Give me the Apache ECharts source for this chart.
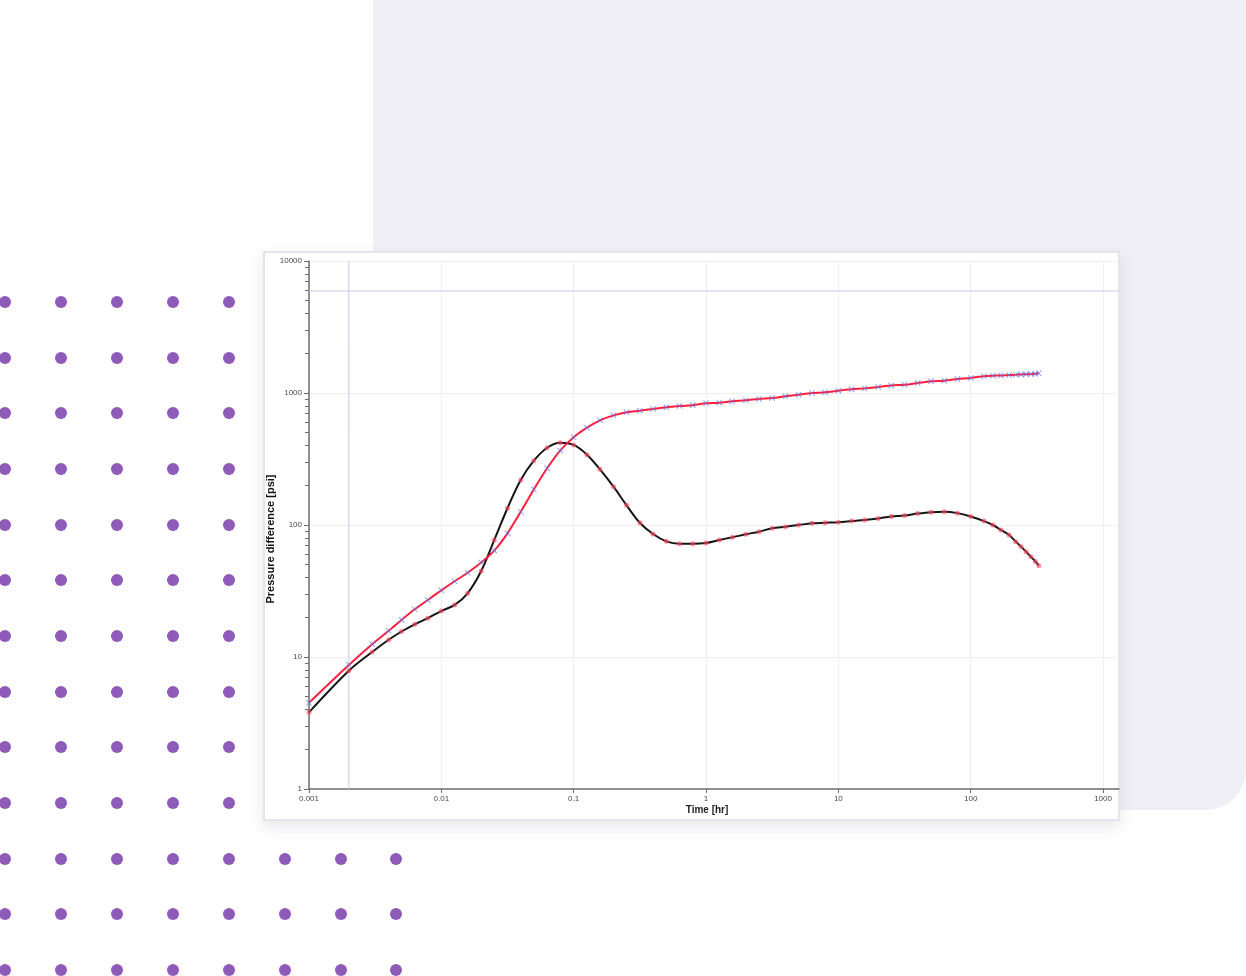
<!DOCTYPE html>
<html>
<head>
<meta charset="utf-8">
<script src="https://cdn.jsdelivr.net/npm/echarts@6/dist/echarts.min.js"></script>
<style>
  html, body { margin: 0; padding: 0; background: #ffffff; width: 1246px; height: 976px; overflow: hidden; position: relative; font-family: "Liberation Sans", Arial, sans-serif; }
  #bgRect { position: absolute; left: 373px; top: -40px; width: 873px; height: 850px; background: #f1eff6; border-radius: 40px; }
  #dots { position: absolute; left: 0; top: 0; width: 1246px; height: 976px; }
  .dot { position: absolute; width: 12px; height: 12px; border-radius: 50%; background: #8e5cb8; }
  #card { position: absolute; left: 263px; top: 251px; width: 853px; height: 566px; background: #ffffff; border: 2px solid #e4e4ea; box-shadow: 0 6px 16px rgba(60,60,90,0.12); }
  #chart { position: absolute; left: 263px; top: 251px; width: 857px; height: 570px; }
</style>
</head>
<body>
<div id="bgRect"></div>
<div id="dots"></div>
<div id="card"></div>
<div id="chart"></div>
<script>
// ---------- data ----------
const timeHr = [0.001, 0.002, 0.003, 0.004, 0.005, 0.0063, 0.0079,
  0.01, 0.0126, 0.0158, 0.02, 0.0251, 0.0316, 0.0398, 0.05, 0.063, 0.079,
  0.1, 0.126, 0.158, 0.2, 0.251, 0.316, 0.398, 0.501, 0.631, 0.794,
  1, 1.26, 1.58, 2, 2.51, 3.16, 3.98, 5.01, 6.31, 7.94,
  10, 12.6, 15.8, 20, 25.1, 31.6, 39.8, 50.1, 63.1, 79.4,
  100, 126, 147, 169, 195, 219, 240, 262, 285, 308, 327];

const pressureDiff = [4.5, 8.7, 12.5, 15.8, 19.1, 23, 27,
  32, 37.5, 43.5, 52, 64, 86.5, 126, 186, 269, 366,
  462, 546, 621, 677, 714, 735, 757, 779, 798, 808,
  836, 845, 866, 881, 902, 917, 944, 971, 1000, 1012,
  1041, 1066, 1084, 1110, 1142, 1155, 1190, 1225, 1239, 1276,
  1300, 1339, 1353, 1358, 1368, 1375, 1382, 1388, 1392, 1398, 1410];

const derivative = [3.81, 7.87, 10.9, 13.5, 15.6, 17.7, 19.7,
  22.3, 24.8, 30.4, 44.8, 76.9, 134, 219, 307, 385, 420,
  404, 341, 264, 195, 141, 104, 85.4, 75.2, 72.1, 72.1,
  73.1, 77, 80.7, 85.1, 89, 94.4, 97.1, 100, 103, 104,
  105, 107, 109, 112, 116, 118, 122, 125, 126, 123,
  116, 107, 100, 91.7, 84, 74.8, 68.6, 62.8, 57.5, 53, 49.2];

const xTickValues = [0.001, 0.01, 0.1, 1, 10, 100, 1000];
const yMinorTicks = [2,3,4,5,6,7,8,9, 20,30,40,50,60,70,80,90, 200,300,400,500,600,700,800,900, 2000,3000,4000,5000,6000,7000,8000,9000];
const xRange = [0.001, 1320];
const yRange = [1, 10000];
const refTime = 0.002;
const refPressure = 5930;

// ---------- decoration: dot grid ----------
const dotCols = [5, 61, 117, 173, 229, 285, 341, 396];
const dotRows = [302, 358, 413, 469, 525, 580, 636, 692, 747, 803, 859, 914, 970];
const dotsEl = document.getElementById('dots');
dotRows.forEach(function (y) {
  dotCols.forEach(function (x) {
    const d = document.createElement('div');
    d.className = 'dot';
    d.style.left = (x - 6) + 'px';
    d.style.top = (y - 6) + 'px';
    dotsEl.appendChild(d);
  });
});

// ---------- chart ----------
const pairs = (xs, ys) => xs.map((x, i) => [x, ys[i]]);
const fmt = v => String(+Number(v).toPrecision(6));
const labelFont = { fontFamily: 'Liberation Sans', fontSize: 8, color: '#4a4a4a' };
const axisColor = '#6e6e6e';
const refLineStyle = { color: '#c8c8ea', width: 1, type: 'solid' };

const chart = echarts.init(document.getElementById('chart'), null, { renderer: 'canvas' });
chart.setOption({
  animation: false,
  backgroundColor: 'transparent',
  grid: { left: 46, top: 10, right: 1, bottom: 32, containLabel: false, outerBoundsMode: 'none' },
  xAxis: {
    type: 'log', logBase: 10, min: xRange[0], max: xRange[1],
    name: 'Time [hr]', nameLocation: 'middle', nameGap: 16, nameMoveOverlap: false,
    nameTextStyle: { fontFamily: 'Liberation Sans', fontSize: 10, fontWeight: 'bold', color: '#222', padding: [0, 14, 0, 0] },
    axisLine: { show: true, onZero: false, lineStyle: { color: axisColor, width: 1.5 } },
    axisTick: { show: true, length: 4, customValues: xTickValues, lineStyle: { color: axisColor } },
    axisLabel: Object.assign({ margin: 6, customValues: xTickValues, formatter: fmt }, labelFont),
    splitLine: { show: true, lineStyle: { color: '#eeeef3', width: 1 } },
    minorTick: { show: false }
  },
  yAxis: [{
    type: 'log', logBase: 10, min: yRange[0], max: yRange[1],
    name: 'Pressure difference [psi]', nameLocation: 'middle', nameGap: 33, nameRotate: 90, nameMoveOverlap: false,
    nameTextStyle: { fontFamily: 'Liberation Sans', fontSize: 11, fontWeight: 'bold', color: '#111', padding: [0, 28, 0, 0] },
    axisLine: { show: true, onZero: false, lineStyle: { color: axisColor, width: 1.5 } },
    axisTick: { show: true, length: 5, lineStyle: { color: axisColor } },
    axisLabel: Object.assign({ margin: 7, formatter: fmt }, labelFont),
    splitLine: { show: true, lineStyle: { color: '#eeeef3', width: 1 } }
  }, {
    type: 'log', logBase: 10, min: yRange[0], max: yRange[1], position: 'left',
    axisLine: { show: false },
    axisTick: { show: true, length: 4, customValues: yMinorTicks, lineStyle: { color: axisColor } },
    axisLabel: { show: false },
    splitLine: { show: false }
  }],
  series: [{
    name: 'RefTime', type: 'line', yAxisIndex: 0,
    data: [[refTime, yRange[0]], [refTime, yRange[1]]],
    symbol: 'none', lineStyle: refLineStyle, silent: true, z: 1
  }, {
    name: 'RefPressure', type: 'line', yAxisIndex: 0,
    data: [[xRange[0], refPressure], [xRange[1], refPressure]],
    symbol: 'none', lineStyle: refLineStyle, silent: true, z: 1
  }, {
    name: 'Derivative',
    type: 'line',
    yAxisIndex: 0,
    data: pairs(timeHr, derivative),
    smooth: 0.35,
    lineStyle: { color: '#151515', width: 2 },
    symbol: 'circle', symbolSize: 5, showSymbol: true,
    itemStyle: { color: 'rgba(255,70,95,0.6)', borderWidth: 0 },
    z: 3
  }, {
    name: 'Pressure',
    type: 'line',
    yAxisIndex: 0,
    data: pairs(timeHr, pressureDiff),
    smooth: 0.35,
    lineStyle: { color: '#ff1f3f', width: 2 },
    symbol: 'path://M0,1L1,0L5,4L9,0L10,1L6,5L10,9L9,10L5,6L1,10L0,9L4,5Z', symbolSize: 6, showSymbol: true,
    itemStyle: { color: 'rgba(95,120,235,0.8)', borderWidth: 0 },
    z: 4
  }]
});
</script>
</body>
</html>
